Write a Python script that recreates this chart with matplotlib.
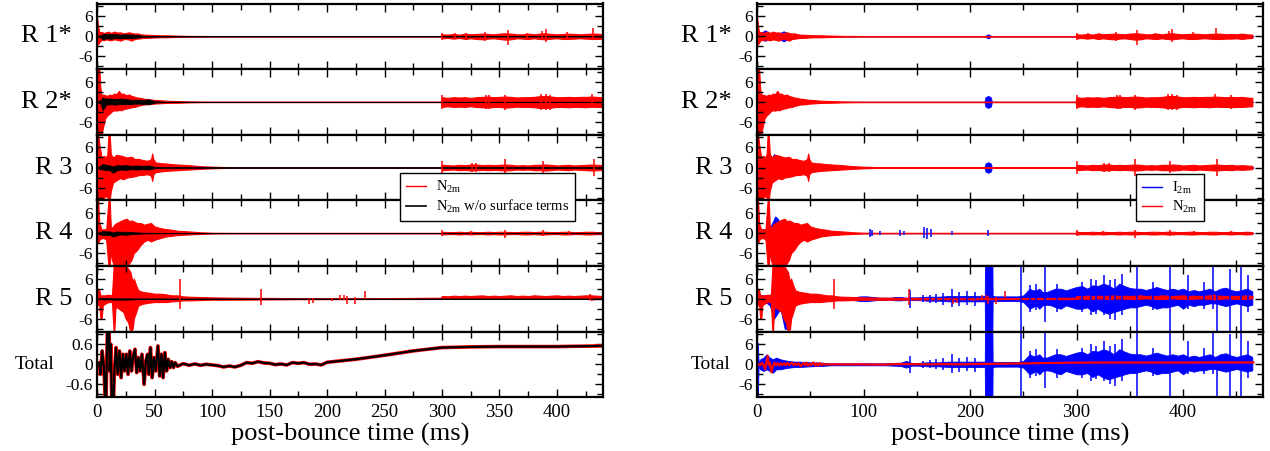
import matplotlib.pyplot as plt
from matplotlib.lines import Line2D
from matplotlib.ticker import MultipleLocator, FixedLocator

plt.rcParams['font.family'] = ['Liberation Serif', 'DejaVu Serif']
plt.rcParams['mathtext.fontset'] = 'custom'
plt.rcParams['mathtext.rm'] = 'Liberation Serif'
plt.rcParams['mathtext.it'] = 'Liberation Serif:italic'
plt.rcParams['axes.unicode_minus'] = False

# ---- data: min/max envelopes of the signals (ms, value) ----
row_labels = ['R 1*', 'R 2*', 'R 3', 'R 4', 'R 5', 'Total']

t_late = [300, 305, 310, 315, 320, 325, 330, 335, 340, 345, 350, 355, 360, 365, 370, 375, 380,
          385, 390, 395, 400, 405, 410, 415, 420, 425, 430, 435, 440, 445, 450, 455, 460, 465]

# N2m (red)
n2m_r1_t = [0, 1, 2, 4, 6, 8, 10, 12, 15, 18, 20, 23, 25, 28, 30, 33, 35, 38, 40, 45, 50, 55, 60,
            70, 80, 90, 100, 150, 200, 250, 299]
n2m_r1_hi = [5.8, 3.0, 1.2, 1.3, 1.0, 1.2, 1.4, 1.0, 1.4, 1.1, 1.2, 0.9, 1.0, 1.2, 1.0, 0.8, 0.9,
             0.6, 0.5, 0.45, 0.35, 0.3, 0.3, 0.2, 0.12, 0.1, 0.08, 0.08, 0.08, 0.08, 0.08]
n2m_r1_lo = [-1.5, -2.4, -1.8, -1.0, -1.2, -0.9, -1.1, -1.2, -0.9, -1.1, -1.3, -0.9, -0.8, -1.0, -1.3,
             -0.8, -0.7, -0.6, -0.5, -0.45, -0.35, -0.3, -0.3, -0.2, -0.12, -0.1, -0.08, -0.08, -0.08,
             -0.08, -0.08]
n2m_r1_late_hi = [0.6, 0.5, 0.7, 0.5, 0.8, 0.6, 0.7, 0.8, 0.7, 0.6, 0.8, 0.9, 0.8, 0.6, 0.6, 0.8, 0.6,
                  0.8, 0.9, 0.7, 0.6, 0.7, 0.8, 0.7, 0.6, 0.7, 0.8, 0.8, 0.6, 0.7, 0.6, 0.8, 0.6, 0.5]
n2m_r1_late_lo = [-0.6, -0.5, -0.7, -0.5, -0.8, -0.6, -0.8, -0.9, -0.7, -0.6, -0.8, -1.0, -0.9, -0.6,
                  -0.7, -0.8, -0.6, -0.8, -0.9, -0.7, -0.6, -0.8, -0.8, -0.7, -0.6, -0.7, -0.8, -0.8,
                  -0.7, -0.7, -0.6, -0.8, -0.6, -0.5]
n2m_r1_spk_t = [300, 311, 321, 337, 357, 374, 387, 390, 409, 431]
n2m_r1_spk_lo = [-1.2, -0.9, -1.2, -1.4, -2.7, -1.1, -1.2, -1.6, -1.2, -1.2]
n2m_r1_spk_hi = [1.1, 0.9, 1.1, 1.3, 1.8, 1.1, 1.5, 2.1, 1.4, 2.4]

n2m_r2_t = [0, 1, 2, 3, 4, 5, 7, 9, 11, 13, 15, 17, 19, 21, 23, 25, 28, 30, 33, 35, 38, 40, 45, 50,
            55, 60, 70, 80, 90, 100, 150, 200, 250, 299]
n2m_r2_hi = [10, 10, 10, 4, 2.0, 2.2, 2.0, 1.8, 2.2, 2.0, 2.5, 2.3, 3.3, 2.4, 2.5, 2.0, 2.2, 1.8, 1.5,
             1.3, 1.2, 1.0, 0.8, 0.6, 0.5, 0.35, 0.25, 0.15, 0.1, 0.08, 0.08, 0.08, 0.08, 0.08]
n2m_r2_lo = [-10, -10, -10, -10, -9.5, -8, -5, -4, -3.5, -2.8, -2.5, -2.6, -2.4, -2.5, -2.2, -2.0,
             -1.8, -1.6, -1.5, -1.2, -1.0, -0.8, -0.7, -0.5, -0.4, -0.3, -0.25, -0.15, -0.1, -0.08,
             -0.08, -0.08, -0.08, -0.08]
n2m_r2_late_hi = [1.4, 1.2, 1.4, 1.3, 1.4, 1.2, 1.4, 1.5, 1.6, 1.4, 1.5, 1.6, 1.5, 1.3, 1.4, 1.4, 1.5,
                  1.7, 1.8, 1.6, 1.4, 1.4, 1.5, 1.4, 1.5, 1.5, 1.6, 1.5, 1.4, 1.5, 1.4, 1.5, 1.3, 1.2]
n2m_r2_late_lo = [-1.5, -1.3, -1.5, -1.4, -1.5, -1.3, -1.5, -1.6, -1.7, -1.5, -1.5, -1.7, -1.6, -1.4,
                  -1.5, -1.5, -1.6, -1.8, -1.8, -1.7, -1.5, -1.5, -1.6, -1.5, -1.5, -1.6, -1.4, -1.5,
                  -1.5, -1.6, -1.5, -1.5, -1.4, -1.3]
n2m_r2_spk_t = [300, 338, 341, 355, 386, 390, 394, 430, 445]
n2m_r2_spk_lo = [-2.0, -2.2, -2.0, -2.5, -2.5, -2.5, -2.3, -1.8, -2.0]
n2m_r2_spk_hi = [2.0, 2.2, 2.0, 2.2, 2.4, 2.5, 2.2, 2.3, 2.0]

n2m_r3_t = [0, 1, 2, 4, 6, 8, 9, 10, 11, 12, 14, 17, 20, 23, 26, 30, 33, 36, 40, 44, 47, 48, 49, 51,
            55, 60, 65, 70, 80, 90, 100, 110, 130, 200, 250, 299]
n2m_r3_hi = [10, 10, 7, 3, 3.5, 3, 4, 10, 10, 4, 3, 3.8, 3.6, 3.3, 3, 3.2, 2.5, 2.6, 2.2, 2.0, 2.5,
             4.2, 2.5, 1.5, 1.3, 1.2, 1.0, 0.9, 0.7, 0.4, 0.25, 0.15, 0.1, 0.08, 0.08, 0.08]
n2m_r3_lo = [-10, -10, -10, -9.5, -9, -8.5, -9, -10, -10, -7, -4.5, -3.8, -3.2, -3.5, -3, -2.8, -2.6,
             -2.3, -2.2, -2.0, -2.5, -4.0, -2.0, -1.4, -1.2, -1.0, -0.9, -0.8, -0.6, -0.4, -0.25,
             -0.15, -0.1, -0.08, -0.08, -0.08]
n2m_r3_late_hi = [0.8, 0.7, 0.6, 0.8, 0.7, 0.9, 0.9, 0.7, 0.8, 0.7, 0.8, 0.9, 0.8, 0.6, 0.7, 0.6, 0.8,
                  0.8, 0.9, 0.8, 0.6, 0.7, 0.8, 0.6, 0.7, 0.8, 0.9, 0.8, 0.7, 0.8, 0.6, 0.7, 0.6, 0.5]
n2m_r3_late_lo = [-0.8, -0.7, -0.6, -0.8, -0.7, -0.9, -0.8, -0.7, -0.8, -0.7, -0.8, -0.9, -0.8, -0.6,
                  -0.7, -0.6, -0.8, -0.8, -0.9, -0.8, -0.6, -0.7, -0.8, -0.6, -0.7, -0.8, -0.9, -0.8,
                  -0.7, -0.8, -0.6, -0.7, -0.6, -0.5]
n2m_r3_spk_t = [300, 326, 330, 355, 388, 432]
n2m_r3_spk_lo = [-2.0, -1.3, -1.2, -2.4, -1.5, -2.4]
n2m_r3_spk_hi = [2.0, 1.3, 1.2, 2.6, 2.0, 2.5]

n2m_r4_t = [0, 1, 2, 4, 6, 8, 10, 11, 12, 13, 15, 17, 20, 23, 26, 28, 30, 32, 35, 38, 41, 44, 47, 50,
            55, 60, 65, 70, 80, 90, 100, 120, 200, 250, 299]
n2m_r4_hi = [10, 10, 3, 1.0, 1.2, 1.0, 10, 10, 2, 1.5, 2.5, 3, 3.5, 4, 4.3, 3.5, 3.8, 3.5, 3, 3, 2.5,
             2.8, 3.0, 2.0, 1.5, 1.2, 1.0, 0.7, 0.5, 0.25, 0.12, 0.08, 0.08, 0.08, 0.08]
n2m_r4_lo = [-1, -3, -2, -1.5, -1.5, -2, -10, -10, -5, -8, -10, -10, -10, -10, -10, -9, -8, -6, -5,
             -3.5, -2.5, -2, -2.5, -2, -1.5, -1.0, -0.8, -0.6, -0.4, -0.25, -0.12, -0.08, -0.08,
             -0.08, -0.08]
n2m_r4_late_hi = [0.4, 0.3, 0.3, 0.4, 0.3, 0.4, 0.3, 0.3, 0.4, 0.3, 0.4, 0.4, 0.3, 0.3, 0.4, 0.4, 0.3,
                  0.4, 0.4, 0.3, 0.3, 0.4, 0.4, 0.3, 0.3, 0.4, 0.4, 0.3, 0.3, 0.4, 0.3, 0.3, 0.4, 0.3]
n2m_r4_late_lo = [-0.4, -0.3, -0.3, -0.4, -0.3, -0.4, -0.3, -0.3, -0.4, -0.3, -0.4, -0.4, -0.3, -0.3,
                  -0.4, -0.4, -0.3, -0.4, -0.4, -0.3, -0.3, -0.4, -0.4, -0.3, -0.3, -0.4, -0.4, -0.3,
                  -0.3, -0.4, -0.3, -0.3, -0.4, -0.3]
n2m_r4_spk_t = [300, 325, 355, 388, 410, 445]
n2m_r4_spk_lo = [-1.0, -0.7, -1.5, -1.0, -0.7, -0.6]
n2m_r4_spk_hi = [1.0, 0.7, 0.8, 1.0, 0.6, 0.7]

n2m_r5_t = [0, 1, 2, 3, 4, 5, 7, 10, 13, 14.5, 15, 16, 17, 19, 21, 23, 25, 27, 29, 31, 32, 34, 36, 40,
            45, 50, 55, 60, 65, 70, 75, 80, 90, 100, 120, 140, 160, 180, 200, 240, 299]
n2m_r5_hi = [3, 3, 2.5, 1.0, 1.0, 1.0, 1.0, 1.2, 1.0, 10, 10, 10, 10, 10, 10, 10, 10, 9, 8, 5, 6, 4,
             2.5, 2.0, 1.8, 1.5, 1.5, 1.3, 1.0, 1.0, 0.7, 0.6, 0.5, 0.4, 0.3, 0.25, 0.2, 0.15, 0.15,
             0.15, 0.3]
n2m_r5_lo = [-1.5, -2, -2, -6, -6, -2, -1.5, -1.0, -1.0, -10, -10, -3, -2.5, -3, -3.5, -4, -6, -7,
             -10, -9, -6, -4, -2, -1.5, -1.2, -1.0, -1.0, -1.0, -0.8, -0.7, -0.5, -0.5, -0.4, -0.3,
             -0.3, -0.25, -0.2, -0.15, -0.15, -0.1, -0.1]
n2m_r5_late_hi = [0.8, 0.7, 0.9, 0.8, 0.9, 0.8, 0.9, 1.0, 0.8, 0.9, 0.8, 0.9, 1.0, 0.8, 0.9, 0.8, 1.0,
                  0.9, 0.8, 0.9, 1.0, 0.8, 0.9, 0.8, 0.9, 1.0, 1.0, 0.9, 0.8, 0.9, 0.8, 0.9, 1.0, 0.8]
n2m_r5_late_lo = [0.0, 0.1, -0.1, 0.0, 0.1, 0.0, -0.1, 0.0, 0.1, 0.0, 0.0, -0.1, 0.0, 0.1, 0.0, 0.0,
                  -0.1, 0.0, 0.1, 0.0, 0.0, -0.1, 0.0, 0.1, 0.0, 0.0, -0.3, 0.0, 0.1, 0.0, 0.0, -0.1,
                  0.0, 0.1]
n2m_r5_spk_t = [72, 143, 184, 188, 204, 211, 215, 217, 224, 233, 429]
n2m_r5_spk_lo = [-3, -2, -1.5, -1.3, -0.8, -0.3, -0.4, -1.5, -1.5, -0.2, -0.3]
n2m_r5_spk_hi = [6, 3, 0, 0.3, 0.2, 1.0, 1.1, 0.8, 0.5, 2.3, 1.5]

# Total: turning points of the curve
n2m_tot_t = [0, 2, 3, 4.5, 6, 7.7, 8.5, 10, 11, 12, 13.5, 15, 16.5, 18, 19.5, 21, 22.5, 24, 25.5, 27,
             28.5, 30, 31.5, 33, 34.5, 36, 37.5, 39, 41, 42.5, 44, 45, 46.5, 48, 49.5, 51, 53, 54.5,
             56, 57.5, 59, 60.5, 62, 63.5, 65, 66.5, 68, 70, 75, 80, 85, 90, 95, 100, 105, 110, 115,
             120, 125, 130, 135, 140, 145, 150, 155, 160, 165, 170, 175, 180, 185, 190, 195, 200, 225,
             250, 275, 300, 325, 350, 400, 440, 466]
n2m_tot_y = [0.0, 0.05, -0.3, 0.4, -0.1, -1.5, 0.2, 2.5, -0.2, 0.6, -2.4, -0.3, 0.5, -0.3, 0.4, -0.4,
             0.3, -0.2, 0.3, -0.3, 0.4, -0.2, 0.25, 0.45, -0.25, 0.2, -0.2, 0.3, -0.6, 0.1, 0.3, -0.3,
             0.5, -0.4, 0.2, -0.2, 0.55, -0.35, 0.3, -0.4, 0.35, -0.2, 0.15, -0.1, 0.08, -0.1, 0.05,
             -0.06, 0.02, -0.03, 0.01, -0.03, 0.0, -0.02, -0.04, -0.08, -0.05, -0.08, -0.03, 0.05,
             0.03, 0.08, 0.04, 0.03, -0.01, 0.01, -0.02, 0.05, 0.03, 0.05, 0.0, 0.01, -0.02, 0.06,
             0.15, 0.27, 0.4, 0.5, 0.52, 0.53, 0.53, 0.55, 0.55]

# N2m without surface terms (black, left panel)
wos_r1_t = [0, 3, 5, 8, 12, 16, 20, 25, 30, 35, 40, 60, 100, 466]
wos_r1_hi = [0.0, 0.3, 0.6, 0.8, 0.6, 0.7, 0.5, 0.6, 0.5, 0.4, 0.15, 0.05, 0.04, 0.04]
wos_r1_lo = [0.0, -0.3, -0.9, -0.6, -0.7, -0.5, -0.6, -0.5, -0.5, -0.4, -0.15, -0.05, -0.04, -0.04]
wos_r2_t = [0, 3, 5, 8, 12, 16, 20, 25, 30, 35, 40, 45, 50, 60, 100, 466]
wos_r2_hi = [0.0, 0.5, 1.3, 1.0, 1.0, 0.8, 1.0, 0.8, 0.6, 0.7, 0.6, 0.8, 0.2, 0.05, 0.04, 0.04]
wos_r2_lo = [0.0, -0.5, -2.5, -0.8, -0.7, -0.8, -0.6, -0.7, -0.6, -0.5, -0.6, -0.7, -0.2, -0.05,
             -0.04, -0.04]
wos_r3_t = [0, 3, 5, 8, 11, 14, 17, 20, 25, 30, 35, 40, 45, 50, 60, 100, 466]
wos_r3_hi = [0.0, 0.5, 1.1, 0.8, 0.6, 0.3, 0.7, 0.6, 0.7, 0.5, 0.6, 0.5, 0.6, 0.2, 0.05, 0.04, 0.04]
wos_r3_lo = [0.0, -0.5, -0.6, -0.8, -0.8, -1.6, -0.9, -0.6, -0.7, -0.5, -0.6, -0.5, -0.6, -0.2, -0.05,
             -0.04, -0.04]
wos_r4_t = [0, 3, 5, 8, 11, 14, 17, 20, 25, 30, 40, 60, 100, 466]
wos_r4_hi = [0.0, 0.4, 0.6, 0.5, 0.5, 0.2, 0.5, 0.4, 0.4, 0.3, 0.1, 0.05, 0.04, 0.04]
wos_r4_lo = [0.0, -0.4, -0.6, -0.5, -0.6, -1.0, -0.7, -0.4, -0.5, -0.3, -0.1, -0.05, -0.04, -0.04]
wos_r5_t = [0, 5, 10, 15, 20, 25, 30, 40, 60, 100, 466]
wos_r5_hi = [0.0, 0.2, 0.2, 0.1, 0.1, 0.1, 0.1, 0.1, 0.06, 0.05, 0.05]
wos_r5_lo = [0.0, -0.2, -0.2, -0.3, -0.3, -0.3, -0.2, -0.1, -0.06, -0.05, -0.05]
wos_tot_t, wos_tot_y = n2m_tot_t, n2m_tot_y  # indistinguishable from N2m at this scale

# I2m (blue, right panel)
i2m_r1_t = [0, 4, 6, 8, 10, 12, 15, 20, 23, 25, 27, 30, 35, 45, 60, 214.5, 215, 217, 219, 219.5, 466]
i2m_r1_hi = [0, 0.8, 1.5, 1.8, 1.2, 1.0, 0.8, 0.8, 1.2, 1.5, 1.2, 0.8, 0.6, 0.3, 0.05, 0.05, 0.3, 0.6,
             0.3, 0.05, 0.05]
i2m_r1_lo = [0, -0.8, -1.2, -1.3, -1.0, -1.0, -0.8, -0.8, -1.2, -1.5, -1.2, -0.8, -0.6, -0.3, -0.05,
             -0.05, -0.3, -0.6, -0.3, -0.05, -0.05]
i2m_r2_t = [0, 4, 6, 8, 10, 12, 15, 18, 21, 24, 28, 35, 45, 60, 213.5, 214.5, 217, 219.5, 220.5, 466]
i2m_r2_hi = [0, 1.0, 1.8, 1.8, 1.5, 1.0, 1.0, 1.0, 0.8, 1.2, 1.0, 0.8, 0.3, 0.05, 0.05, 1.4, 1.8, 1.4,
             0.05, 0.05]
i2m_r2_lo = [0, -1.0, -1.5, -1.5, -1.2, -1.0, -1.2, -1.5, -1.8, -1.2, -1.0, -0.8, -0.3, -0.05, -0.05,
             -1.4, -1.8, -1.4, -0.05, -0.05]
i2m_r3_t = [0, 3, 6, 9, 12, 14, 16, 18, 20, 23, 26, 30, 40, 50, 60, 213.5, 214.5, 217, 219.5, 220.5,
            466]
i2m_r3_hi = [0, 1.5, 2.0, 1.2, 1.5, 3.0, 4.0, 3.5, 2.0, 1.5, 1.5, 1.2, 0.8, 0.4, 0.05, 0.05, 1.2, 1.6,
             1.2, 0.05, 0.05]
i2m_r3_lo = [0, -1.5, -1.2, -1.5, -1.5, -2.5, -3.0, -2.5, -2.0, -1.5, -1.5, -1.2, -0.8, -0.4, -0.05,
             -0.05, -1.2, -1.6, -1.2, -0.05, -0.05]
i2m_r4_t = [0, 3, 6, 9, 12, 15, 17, 19, 21, 23, 25, 28, 32, 40, 50, 60, 466]
i2m_r4_hi = [0, 1.0, 1.2, 1.0, 1.5, 3.5, 5.0, 4.5, 3.5, 2.5, 2.5, 1.8, 1.2, 0.8, 0.5, 0.05, 0.05]
i2m_r4_lo = [0, -1.0, -1.0, -1.2, -1.5, -3.0, -3.5, -3.5, -3.0, -2.0, -2.0, -1.5, -1.2, -0.8, -0.5,
             -0.05, -0.05]
i2m_r4_spk_t = [106, 108, 115, 134, 138, 157, 160, 163, 183, 217]
i2m_r4_spk_lo = [-1.3, -0.8, -0.5, -0.8, -0.6, -1.5, -1.8, -1.2, -0.5, -0.8]
i2m_r4_spk_hi = [1.3, 0.8, 0.5, 0.8, 0.6, 1.8, 1.5, 1.2, 0.5, 0.8]

i2m_r5_head_t = [0, 2, 5, 8, 10, 12, 14, 16, 18, 20, 22, 24, 26, 28, 30, 33, 36, 40, 50, 60, 70, 80,
                 90, 97, 103, 110, 115, 125, 130, 135, 140, 145]
i2m_r5_head_hi = [0.5, 1.0, 1.0, 1.0, 1.0, 1.2, 1.5, 2.0, 2.2, 1.5, 1.5, 1.0, 0.8, 0.5, 0.5, 1.0, 0.8,
                  0.8, 0.6, 0.5, 0.4, 0.4, 0.4, 0.7, 0.7, 0.5, 0.3, 0.3, 0.5, 0.5, 0.3, 0.4]
i2m_r5_head_lo = [-0.5, -1.0, -1.0, -1.0, -1.5, -2.0, -4.0, -6.0, -5.0, -4.0, -3.0, -6.0, -9.0, -9.0,
                  -3.0, -1.0, -0.8, -0.8, -0.6, -0.5, -0.4, -0.4, -0.4, -0.7, -0.7, -0.5, -0.3, -0.3,
                  -0.5, -0.5, -0.3, -0.4]
i2m_tot_head_t = [0, 0.8, 1.5, 3, 6, 9, 12, 15, 18, 22, 26, 30, 35, 40, 50, 60, 70, 80, 100, 120, 135,
                  140, 145]
i2m_tot_head_hi = [6.5, 6.5, 0.5, 1.5, 2.0, 3.0, 2.0, 1.5, 2.0, 1.5, 1.2, 1.0, 0.8, 0.8, 0.6, 0.5, 0.3,
                   0.3, 0.3, 0.3, 0.5, 1.0, 0.4]
i2m_tot_head_lo = [-9.8, -9.8, -0.5, -1.5, -2.0, -1.5, -2.0, -2.5, -1.5, -1.5, -1.2, -1.0, -0.8, -0.8,
                   -0.6, -0.5, -0.3, -0.3, -0.3, -0.3, -0.5, -1.0, -0.4]
# from 150 ms on, R 5 and Total look the same
i2m_tail_t = [150, 160, 170, 180, 190, 200, 210, 213.8, 214, 221, 221.2, 225, 235, 245, 250, 253, 256,
              259, 262, 265, 268, 272, 276, 280, 285, 290, 295]
i2m_tail_hi = [0.4, 0.6, 0.6, 0.8, 0.8, 0.8, 0.8, 0.8, 9.8, 9.8, 0.8, 0.7, 0.7, 0.7, 1.0, 2.0, 3.0,
               2.5, 2.5, 3.0, 2.0, 2.0, 2.5, 3.0, 3.0, 2.5, 3.0]
i2m_tail_lo = [-0.4, -0.6, -0.6, -0.8, -0.8, -0.8, -0.8, -0.8, -9.8, -9.8, -0.8, -0.7, -0.7, -0.7,
               -1.0, -2.0, -3.0, -2.5, -2.0, -3.0, -2.0, -1.8, -2.0, -2.5, -3.0, -2.0, -2.5]
i2m_late_hi = [3.5, 3.8, 3.0, 4.0, 3.8, 4.5, 4.0, 3.0, 4.5, 3.8, 3.2, 3.0, 3.0, 2.6, 3.0, 3.5, 3.0,
               2.6, 3.0, 2.6, 3.0, 2.2, 2.6, 2.2, 2.6, 3.0, 2.2, 3.0, 3.3, 2.6, 2.2, 2.6, 3.0, 2.2]
i2m_late_lo = [-3.0, -3.0, -2.6, -3.8, -3.0, -4.0, -4.5, -4.0, -3.5, -3.0, -2.6, -2.6, -2.2, -1.8,
               -2.2, -3.0, -2.6, -2.6, -2.2, -1.8, -3.0, -1.8, -2.2, -1.8, -1.8, -1.4, -1.4, -1.8,
               -2.2, -1.8, -1.4, -1.8, -2.2, -1.8]
i2m_spk_t = [144, 156, 162, 168, 175, 183, 190, 197, 205, 248, 256, 262, 270, 282, 305, 314, 318, 326,
             331, 336, 343, 357, 372, 388, 405, 420, 428, 432, 444, 454, 461]
i2m_spk_lo = [-2.7, -1.0, -1.2, -1.4, -1.8, -2.5, -2.2, -2.0, -2.2, -9.8, -4.0, -3.5, -7.0, -4.0, -4.0,
              -5.0, -4.5, -5.0, -6.0, -6.5, -5.0, -9.8, -3.5, -9.8, -3.0, -3.0, -3.0, -9.8, -9.8, -9.8,
              -4.0]
i2m_spk_hi = [2.5, 1.0, 1.2, 1.5, 1.8, 3.0, 2.0, 2.2, 2.0, 9.8, 4.0, 4.5, 9.5, 4.5, 5.0, 6.0, 5.5,
              7.0, 5.5, 6.0, 7.5, 9.8, 5.0, 9.8, 7.0, 5.0, 9.8, 2.0, 9.0, 9.8, 7.0]

# ---- assemble series per row ----
red_rows = [
    (n2m_r1_t + t_late, n2m_r1_hi + n2m_r1_late_hi, n2m_r1_lo + n2m_r1_late_lo,
     (n2m_r1_spk_t, n2m_r1_spk_lo, n2m_r1_spk_hi)),
    (n2m_r2_t + t_late, n2m_r2_hi + n2m_r2_late_hi, n2m_r2_lo + n2m_r2_late_lo,
     (n2m_r2_spk_t, n2m_r2_spk_lo, n2m_r2_spk_hi)),
    (n2m_r3_t + t_late, n2m_r3_hi + n2m_r3_late_hi, n2m_r3_lo + n2m_r3_late_lo,
     (n2m_r3_spk_t, n2m_r3_spk_lo, n2m_r3_spk_hi)),
    (n2m_r4_t + t_late, n2m_r4_hi + n2m_r4_late_hi, n2m_r4_lo + n2m_r4_late_lo,
     (n2m_r4_spk_t, n2m_r4_spk_lo, n2m_r4_spk_hi)),
    (n2m_r5_t + t_late, n2m_r5_hi + n2m_r5_late_hi, n2m_r5_lo + n2m_r5_late_lo,
     (n2m_r5_spk_t, n2m_r5_spk_lo, n2m_r5_spk_hi)),
]
black_rows = [
    (wos_r1_t, wos_r1_hi, wos_r1_lo, None), (wos_r2_t, wos_r2_hi, wos_r2_lo, None),
    (wos_r3_t, wos_r3_hi, wos_r3_lo, None), (wos_r4_t, wos_r4_hi, wos_r4_lo, None),
    (wos_r5_t, wos_r5_hi, wos_r5_lo, None),
]
blue_rows = [
    (i2m_r1_t, i2m_r1_hi, i2m_r1_lo, None),
    (i2m_r2_t, i2m_r2_hi, i2m_r2_lo, None),
    (i2m_r3_t, i2m_r3_hi, i2m_r3_lo, None),
    (i2m_r4_t, i2m_r4_hi, i2m_r4_lo, (i2m_r4_spk_t, i2m_r4_spk_lo, i2m_r4_spk_hi)),
    (i2m_r5_head_t + i2m_tail_t + t_late, i2m_r5_head_hi + i2m_tail_hi + i2m_late_hi,
     i2m_r5_head_lo + i2m_tail_lo + i2m_late_lo, (i2m_spk_t, i2m_spk_lo, i2m_spk_hi)),
    (i2m_tot_head_t + i2m_tail_t + t_late, i2m_tot_head_hi + i2m_tail_hi + i2m_late_hi,
     i2m_tot_head_lo + i2m_tail_lo + i2m_late_lo, (i2m_spk_t, i2m_spk_lo, i2m_spk_hi)),
]


def draw(ax, series, color, lw=0.6):
    t, hi, lo, spk = series
    ax.fill_between(t, lo, hi, facecolor=color, edgecolor=color, linewidth=lw)
    if spk is not None:
        ax.vlines(spk[0], spk[1], spk[2], colors=color, linewidth=1.1)


W, H = 1270, 451
fig = plt.figure(figsize=(W / 100, H / 100), dpi=100)
top_px, row_px = 3.5, 65.6

panels = [(97, 440, 50, 25), (757, 475, 100, 50)]
for p, (x0, xmax, major, minor) in enumerate(panels):
    for i, label in enumerate(row_labels):
        y0 = top_px + row_px * (i + 1)
        ax = fig.add_axes([x0 / W, 1 - y0 / H, 506 / W, row_px / H])
        total = label == 'Total'
        if p == 0:
            if total:
                ax.plot(n2m_tot_t, n2m_tot_y, color='red', lw=2.6)
                ax.plot(wos_tot_t, wos_tot_y, color='black', lw=1.6)
            else:
                draw(ax, red_rows[i], 'red', lw=0.8)
                draw(ax, black_rows[i], 'black', lw=0.6)
        else:
            draw(ax, blue_rows[i], 'blue', lw=0.6)
            if total:
                ax.plot(n2m_tot_t, n2m_tot_y, color='red', lw=1.6)
            else:
                draw(ax, red_rows[i], 'red', lw=0.8)

        ax.set_xlim(0, xmax)
        ax.xaxis.set_major_locator(MultipleLocator(major))
        ax.xaxis.set_minor_locator(MultipleLocator(minor))
        if total and p == 0:
            ax.set_ylim(-0.98, 0.98)
            ax.yaxis.set_major_locator(FixedLocator([-0.6, 0, 0.6]))
            ax.yaxis.set_minor_locator(FixedLocator([-0.9, -0.3, 0.3, 0.9]))
            ax.set_yticklabels(['-0.6', '0', '0.6'])
        else:
            ax.set_ylim(-9.8, 9.8)
            ax.yaxis.set_major_locator(FixedLocator([-6, 0, 6]))
            ax.yaxis.set_minor_locator(FixedLocator([-9, -3, 3, 9]))
            ax.set_yticklabels(['-6', '0', '6'])
        ax.tick_params(which='both', direction='in', top=True, right=True, width=1.0)
        ax.tick_params(which='major', length=6)
        ax.tick_params(which='minor', length=4)
        ax.tick_params(axis='y', labelsize=12.5, pad=3)
        ax.tick_params(axis='x', labelsize=13.5, pad=5, labelbottom=(i == 5))
        for s in ax.spines.values():
            s.set_linewidth(1.6)

        if total:
            off = -43 if p == 0 else -27
            ax.text(off / 506, 0.5, label, transform=ax.transAxes, ha='right', va='center',
                    fontsize=14)
        else:
            ax.text(-25 / 506, 0.5, label, transform=ax.transAxes, ha='right', va='center',
                    fontsize=19)
        if i == 5:
            ax.set_xlabel('post-bounce time (ms)', fontsize=19, labelpad=1)

leg_kw = dict(loc='upper left', fontsize=10.5, frameon=True, fancybox=False, framealpha=1,
              edgecolor='black', handlelength=1.4, labelspacing=0.2, borderpad=0.4,
              handletextpad=0.7, borderaxespad=0)
leg1 = fig.legend([Line2D([], [], color='red', lw=1), Line2D([], [], color='black', lw=1.2)],
                  ['N$_{\\mathrm{2m}}$', 'N$_{\\mathrm{2m}}$ w/o surface terms'],
                  bbox_to_anchor=(400 / W, 1 - 173 / H), **leg_kw)
leg2 = fig.legend([Line2D([], [], color='blue', lw=1), Line2D([], [], color='red', lw=1)],
                  ['I$_{\\mathrm{2m}}$', 'N$_{\\mathrm{2m}}$'],
                  bbox_to_anchor=(1136 / W, 1 - 174 / H), **leg_kw)
for lg in (leg1, leg2):
    lg.get_frame().set_linewidth(1.0)

fig.savefig('out.png', dpi=100)
